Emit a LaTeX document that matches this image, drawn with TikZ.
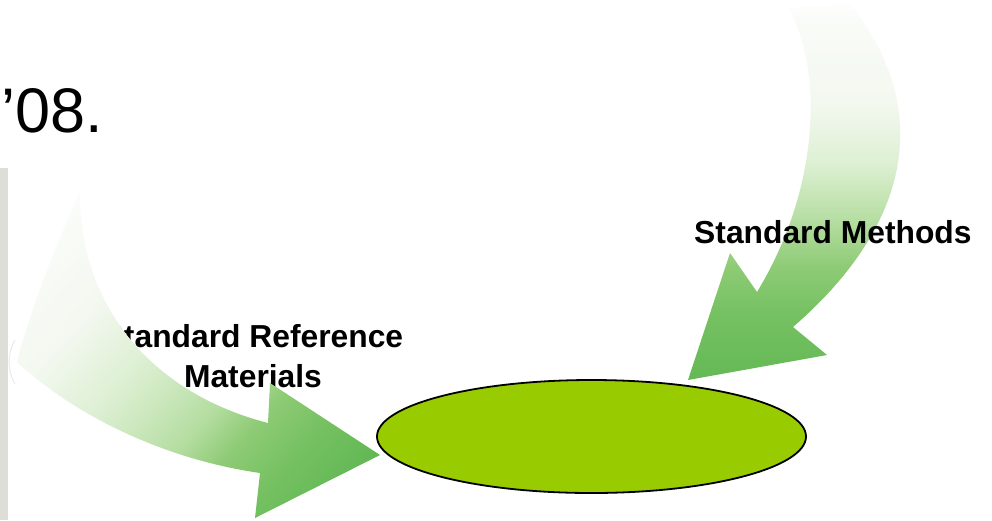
\documentclass[tikz,border=0pt]{standalone}
\usepackage{fontspec}
\setmainfont{Liberation Sans}
\usetikzlibrary{shapes.geometric}
\definecolor{agreenD}{RGB}{100,185,85}
\definecolor{agreenH}{RGB}{118,193,98}
\definecolor{agreenM}{RGB}{142,203,117}
\definecolor{agreenL}{RGB}{180,221,160}
\definecolor{agreenL2}{RGB}{204,232,190}
\definecolor{agreenVL}{RGB}{222,240,212}
\definecolor{agreenW}{RGB}{243,248,240}
\definecolor{agreenWW}{RGB}{249,251,247}
\definecolor{ovalgreen}{RGB}{153,204,0}
\definecolor{stripgray}{RGB}{221,222,216}
\pgfdeclareverticalshading{lshade}{100bp}{color(0bp)=(agreenD); color(22bp)=(agreenD); color(30bp)=(agreenH); color(37bp)=(agreenM); color(43bp)=(agreenL); color(50bp)=(agreenL2); color(56bp)=(agreenVL); color(66bp)=(agreenW); color(76bp)=(agreenWW); color(80bp)=(white); color(100bp)=(white)}
\pgfdeclareverticalshading{rshade}{100bp}{color(0bp)=(agreenD); color(25bp)=(agreenD); color(34bp)=(agreenH); color(40bp)=(agreenM); color(46bp)=(agreenL); color(54bp)=(agreenVL); color(62bp)=(agreenW); color(72bp)=(agreenWW); color(76bp)=(white); color(100bp)=(white)}
\tikzset{
  lbl/.style={font=\fontsize{31.8}{38}\bfseries\selectfont, inner sep=0pt, text=black},
  bigarrow/.style={draw=none}
}
\begin{document}
\begin{tikzpicture}[x=1pt,y=-1pt]
\useasboundingbox[fill=white] (0,0) rectangle (992,520);
% left grey strip and faint arc
\fill[stripgray] (0,168) rectangle (8,520);
\draw[black!8, line width=1pt] (15,340) arc[start angle=150, end angle=210, x radius=44, y radius=-44];
% title fragment
\node[anchor=base east, inner sep=0pt, font=\fontsize{63}{70}\selectfont] (title) at (103,132) {’08.};
% right arrow (behind its label)
\path[bigarrow, shading=rshade]
  (788,8) .. controls (820,60) and (825,180) .. (757,292)
  -- (730,253) -- (688,380) -- (827,355) -- (793,327)
  .. controls (905,230) and (938,115) .. (850,4) -- cycle;
\node[lbl, anchor=base west] (sm) at (694,243) {Standard Methods};
% left label (behind its arrow)
\node[lbl, anchor=base] (srm1) at (253,347) {Standard Reference};
\node[lbl, anchor=base] (srm2) at (253,387) {Materials};
\path[bigarrow, shading=lshade, shading angle=48.5]
  (80,190) .. controls (78,302) and (148,392) .. (268,423)
  -- (270,383) -- (380,455) -- (255,518) -- (260,473)
  .. controls (170,460) and (80,420) .. (17,362)
  .. controls (30,310) and (55,250) .. (80,190) -- cycle;
% target oval
\node[ellipse, draw=black, line width=1.8pt, fill=ovalgreen, minimum width=429pt, minimum height=113pt, inner sep=0pt] (target) at (591.5,436.5) {};
\end{tikzpicture}
\end{document}
